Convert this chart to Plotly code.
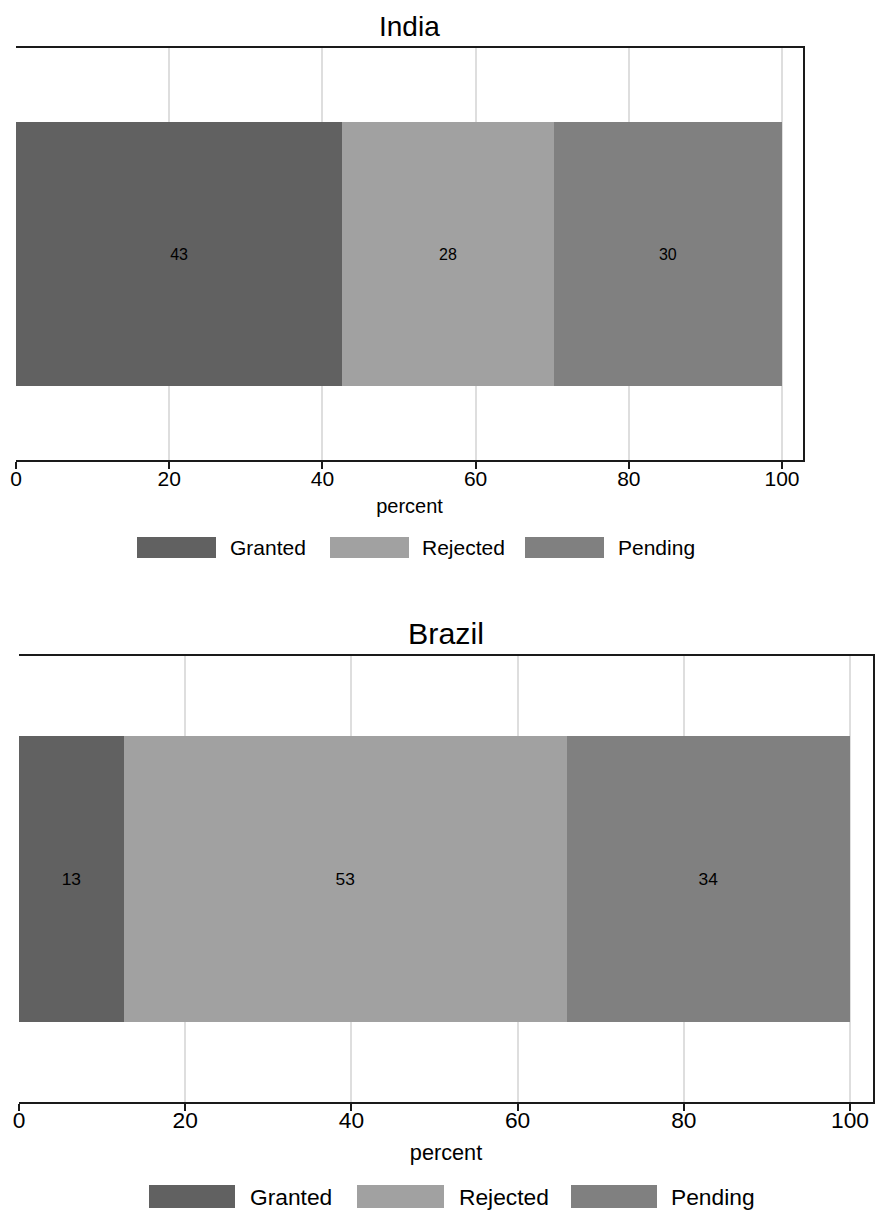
import plotly.graph_objects as go

# ---- data ----
countries = ["India", "Brazil"]
statuses = ["Granted", "Rejected", "Pending"]
india_pct = [42.6, 27.6, 29.8]
brazil_pct = [12.6, 53.3, 34.1]
status_colors = ["#616161", "#a1a1a1", "#808080"]
tick_values = [0, 20, 40, 60, 80, 100]

W, H = 876, 1211
FONT = "Liberation Sans, Arial, Helvetica, sans-serif"
DARK = "#1a1a1a"


def py(pix):
    return 1 - pix / H


def px(pix):
    return pix / W


panels = [
    dict(name=countries[0], vals=india_pct, xdom=[px(16), px(803)], ydom=[py(460), py(48)],
         xmax=102.74, scale=1.0, title_y=26,
         leg=dict(y0=537, y1=558, sw=[(137, 216), (330, 409), (525, 604)], tx=[228, 420, 616])),
    dict(name=countries[1], vals=brazil_pct, xdom=[px(19), px(873)], ydom=[py(1102), py(656)],
         xmax=102.77, scale=1.085, title_y=633,
         leg=dict(y0=1185, y1=1208, sw=[(149, 235), (357, 444), (571, 657)], tx=[248, 457, 669])),
]

fig = go.Figure()
shapes = []
annotations = []

for i, p in enumerate(panels):
    ax = "" if i == 0 else str(i + 1)
    s = p["scale"]
    for j, st in enumerate(statuses):
        fig.add_trace(go.Bar(
            x=[p["vals"][j]], y=[0], orientation="h", name=st,
            marker=dict(color=status_colors[j], line=dict(width=0)),
            width=0.64, texttemplate="%{x:.0f}", textposition="inside",
            insidetextanchor="middle", constraintext="none",
            textfont=dict(color="black", size=16 * s, family=FONT),
            xaxis="x" + ax, yaxis="y" + ax, showlegend=False,
        ))
    fig.update_layout(**{
        "xaxis" + ax: dict(
            domain=p["xdom"], range=[0, p["xmax"]], anchor="y" + ax, automargin=False,
            tickvals=tick_values, ticks="outside", ticklen=7, tickwidth=1.5, tickcolor=DARK,
            ticklabelstandoff=-8 if i == 0 else -10,
            tickfont=dict(size=21 * s, color="black", family=FONT),
            showgrid=True, gridcolor="#dedede", gridwidth=1.5, zeroline=False,
            showline=True, linecolor=DARK, linewidth=1.8, mirror=True,
            title=dict(text="percent", font=dict(size=20 * s, color="black", family=FONT),
                       standoff=10 if i == 0 else 13),
        ),
        "yaxis" + ax: dict(
            domain=p["ydom"], range=[-0.5, 0.5], anchor="x" + ax, side="right", automargin=False,
            showticklabels=False, ticks="", showgrid=False, zeroline=False,
            showline=True, linecolor=DARK, linewidth=1.8,
        ),
    })
    annotations.append(dict(
        text=p["name"], x=(p["xdom"][0] + p["xdom"][1]) / 2, y=py(p["title_y"]),
        xref="paper", yref="paper", xanchor="center", yanchor="middle", showarrow=False,
        font=dict(size=28 * s, color="black", family=FONT),
    ))
    lg = p["leg"]
    for j, st in enumerate(statuses):
        x0, x1 = lg["sw"][j]
        shapes.append(dict(type="rect", xref="paper", yref="paper",
                           x0=px(x0), x1=px(x1), y0=py(lg["y1"]), y1=py(lg["y0"]),
                           fillcolor=status_colors[j], line=dict(width=0)))
        annotations.append(dict(
            text=st, x=px(lg["tx"][j]), y=py((lg["y0"] + lg["y1"]) / 2),
            xref="paper", yref="paper", xanchor="left", yanchor="middle", showarrow=False,
            font=dict(size=21 * s, color="black", family=FONT),
        ))

fig.update_layout(
    width=W, height=H, margin=dict(l=0, r=0, t=0, b=0, autoexpand=False),
    paper_bgcolor="white", plot_bgcolor="white",
    barmode="stack", showlegend=False,
    shapes=shapes, annotations=annotations,
    font=dict(family=FONT, color="black"),
)

fig.write_html(
    "out.html",
    config={"displayModeBar": False},
    post_script="document.body.style.margin='0';document.body.style.overflow='hidden';",
)
